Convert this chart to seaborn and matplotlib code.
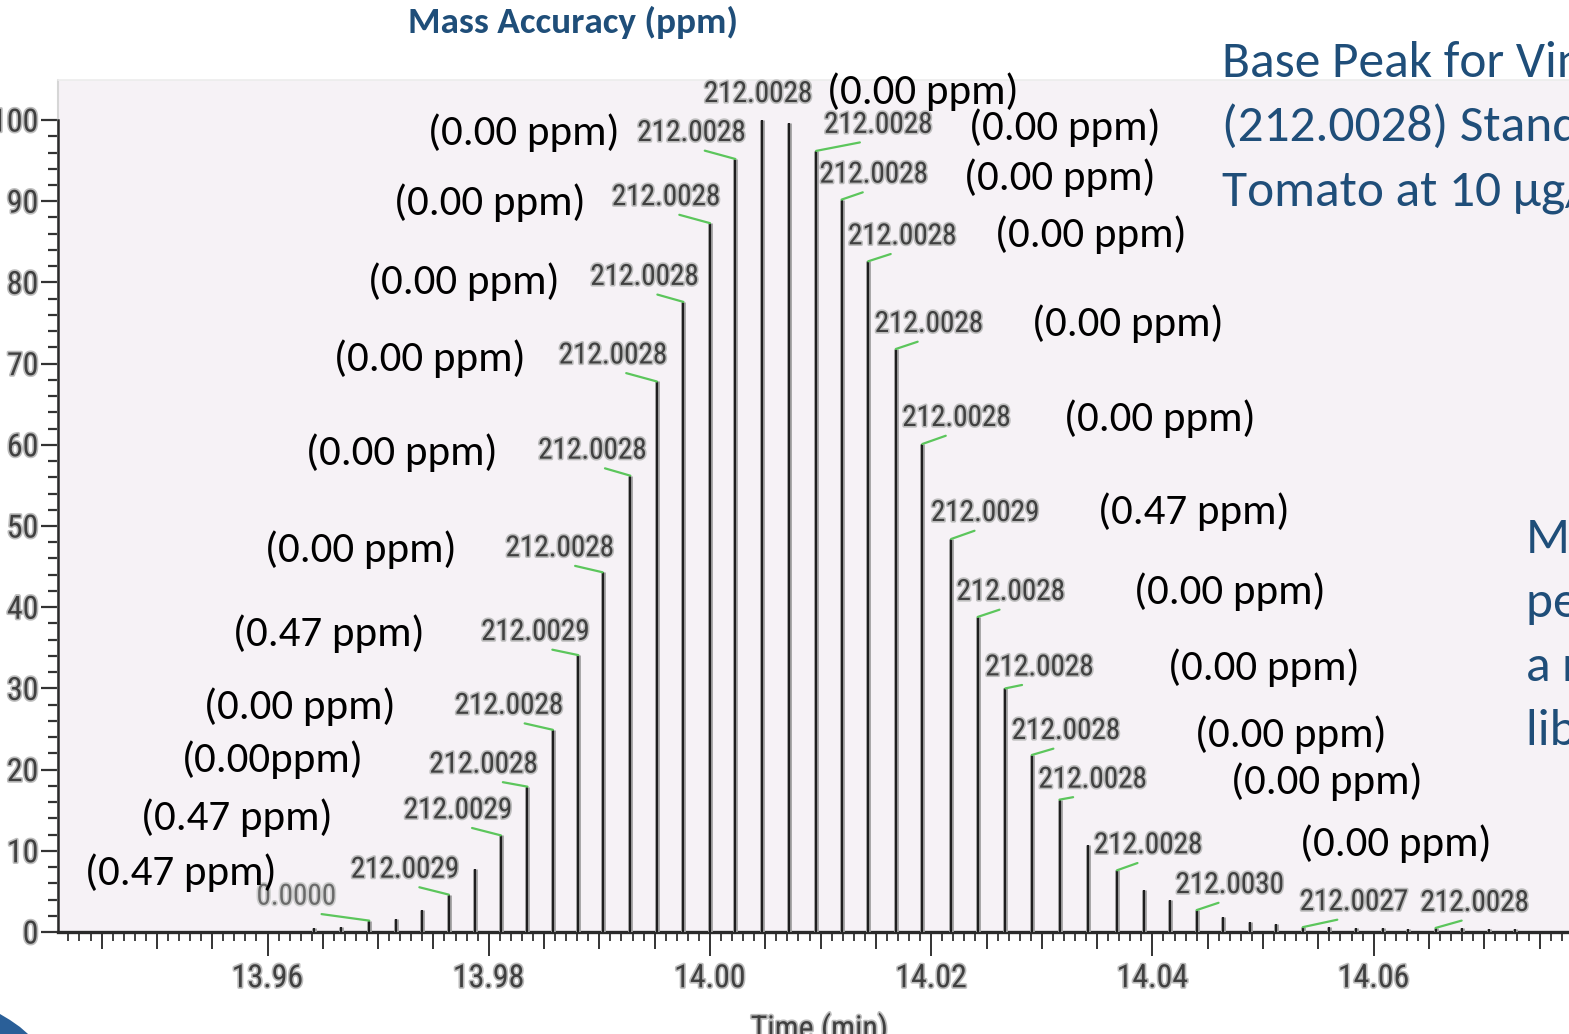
import matplotlib
matplotlib.use("Agg")
import numpy as np
import pandas as pd
import seaborn as sns
import matplotlib.pyplot as plt
from matplotlib import ticker, patheffects as pe, font_manager as fm
from matplotlib.patches import Polygon

# ---------------------------------------------------------------- data
retention_time = [
    13.9642, 13.9666, 13.9692, 13.9716, 13.9740, 13.9764, 13.9788, 13.9811,
    13.9835, 13.9858, 13.9881, 13.9903, 13.9928, 13.9952, 13.9976, 14.0000,
    14.0023, 14.0047, 14.0071, 14.0096, 14.0119, 14.0143, 14.0168, 14.0192,
    14.0218, 14.0242, 14.0267, 14.0291, 14.0316, 14.0342, 14.0368, 14.0392,
    14.0416, 14.0440, 14.0464, 14.0488, 14.0512, 14.0536, 14.0560, 14.0584,
    14.0608, 14.0631, 14.0656, 14.0680, 14.0704, 14.0728,
]
rel_abundance = [
    0.5, 0.6, 1.4, 1.6, 2.7, 4.6, 7.8, 11.9,
    17.9, 24.9, 34.1, 44.3, 56.2, 67.8, 77.6, 87.3,
    95.2, 100.0, 99.6, 96.2, 90.2, 82.6, 71.8, 60.1,
    48.4, 38.8, 30.0, 21.8, 16.3, 10.7, 7.6, 5.2,
    3.9, 2.7, 1.8, 1.2, 1.0, 0.6, 0.6, 0.5,
    0.5, 0.4, 0.5, 0.5, 0.4, 0.4,
]

# scans carrying an accurate-mass label
labelled_scan = [2, 5, 7, 8, 9, 10, 11, 12, 13, 14, 15, 16, 17,
                 19, 20, 21, 22, 23, 24, 25, 26, 27, 28, 30, 33, 37, 42]
mz_text = ["0.0000", "212.0029", "212.0029", "212.0028", "212.0028", "212.0029",
           "212.0028", "212.0028", "212.0028", "212.0028", "212.0028", "212.0028",
           "212.0028",
           "212.0028", "212.0028", "212.0028", "212.0028", "212.0028", "212.0029",
           "212.0028", "212.0028", "212.0028", "212.0028", "212.0028",
           "212.0030", "212.0027", "212.0028"]
ppm_text = [None, "(0.47 ppm)", "(0.47 ppm)", "(0.00ppm)", "(0.00 ppm)", "(0.47 ppm)",
            "(0.00 ppm)", "(0.00 ppm)", "(0.00 ppm)", "(0.00 ppm)", "(0.00 ppm)",
            "(0.00 ppm)", "(0.00 ppm)",
            "(0.00 ppm)", "(0.00 ppm)", "(0.00 ppm)", "(0.00 ppm)", "(0.00 ppm)",
            "(0.47 ppm)", "(0.00 ppm)", "(0.00 ppm)", "(0.00 ppm)", "(0.00 ppm)",
            "(0.00 ppm)", None, None, None]

title_text = "Mass Accuracy (ppm)"
side_note = ["Base Peak for Vinclozolin", "(212.0028) Standard in", "Tomato at 10 µg/kg"]
side_note2 = ["Mass accuracy for every", "peak scan supports", "a reliable match to the",
              "library spectrum"]

# ---------------------------------------------------------------- layout
# label offsets from each peak apex, in pixels (x right, y up)
mz_offset = [(-73, 24), (-44, 25), (-43, 25), (-44, 22), (-44, 24), (-43, 23),
             (-43, 24), (-38, 25), (-44, 26), (-39, 25), (-44, 26), (-44, 26),
             (-4, 26),
             (62, 26), (32, 25), (34, 25), (33, 25), (34, 26), (34, 26),
             (33, 25), (34, 21), (34, 24), (33, 20), (31, 25),
             (33, 25), (51, 25), (39, 25)]
ppm_offset = [None, (-172, 22), (-168, 18), (-164, 27), (-157, 23), (-154, 21),
              (-146, 23), (-133, 23), (-131, 23), (-124, 20), (-124, 20), (-116, 26),
              (65, 28),
              (153, 23), (122, 22), (127, 27), (136, 25), (142, 25), (147, 27),
              (156, 25), (163, 21), (163, 20), (171, 18), (183, 27),
              None, None, None]

W, H = 1569, 1034
available = {f.name for f in fm.fontManager.ttflist}


def pick(cands, default):
    for c in cands:
        if c in available:
            return c
    return default


narrow = pick(["Liberation Sans Narrow", "Roboto Condensed", "Arial Narrow"], "Liberation Sans")
body = pick(["Carlito", "Lato", "Open Sans"], "DejaVu Sans")

sns.set_theme(style="ticks")
plt.rcParams["font.family"] = [body, "DejaVu Sans"]

plot_bg = "#f6f2f6"
blue = "#1f4e79"
green = "#5cc65c"
stick_dark = "#1e1e1e"
gray_text = "#404040"
halo = [pe.withStroke(linewidth=2.4, foreground="#bdbdbd")]

fig = plt.figure(figsize=(W / 100, H / 100), dpi=100)
fig.patch.set_facecolor("white")
ax = fig.add_axes([58 / W, 102 / H, (W - 58) / W, 852 / H])
ax.set_facecolor(plot_bg)

df = pd.DataFrame({"time": retention_time, "abundance": rel_abundance})

# centroid sticks
ax.vlines(df["time"], 0, df["abundance"], colors=stick_dark, linewidth=1.5,
          path_effects=[pe.Stroke(linewidth=3.4, foreground="#9e9e9e"), pe.Normal()],
          zorder=3)

# accurate-mass labels with connectors, plus ppm error text
for k, scan in enumerate(labelled_scan):
    t, h = retention_time[scan], rel_abundance[scan]
    dx, dy = mz_offset[k]
    faded = mz_text[k] == "0.0000"
    arrow = None if scan == 17 else dict(arrowstyle="-", color=green, lw=1.6,
                                         shrinkA=1, shrinkB=0, relpos=(0.5, 0.0))
    ax.annotate(mz_text[k], xy=(t, h), xytext=(dx, dy), textcoords="offset pixels",
                ha="center", va="center", fontsize=21, family=narrow,
                color="#6a6a6a" if faded else gray_text,
                path_effects=[pe.withStroke(linewidth=2.4,
                                            foreground="#cfcfcf" if faded else "#bdbdbd")],
                arrowprops=arrow, zorder=5)
    if ppm_text[k] is not None:
        px, py = ppm_offset[k]
        ax.annotate(ppm_text[k], xy=(t, h), xytext=(px, py), textcoords="offset pixels",
                    ha="right" if px < 0 else "left", va="center",
                    fontsize=31, color="black", zorder=6)

# axes limits and rulers
ax.set_xlim(13.94106, 14.07766)
ax.set_ylim(0, 104.93)
ax.xaxis.set_major_locator(ticker.MultipleLocator(0.005))
ax.xaxis.set_minor_locator(ticker.MultipleLocator(0.001))
ax.xaxis.set_major_formatter(ticker.FuncFormatter(
    lambda v, pos: f"{v:.2f}" if abs(v / 0.02 - round(v / 0.02)) < 1e-6 else ""))
ax.yaxis.set_major_locator(ticker.FixedLocator(np.arange(0, 101, 10)))
ax.yaxis.set_minor_locator(ticker.FixedLocator([v for v in range(0, 101, 2) if v % 10]))

ax.tick_params(axis="x", which="major", length=12.2, width=1.4, color="#333333",
               pad=11, labelsize=23, labelcolor=gray_text, labelfontfamily=narrow)
ax.tick_params(axis="x", which="minor", length=6.5, width=1.3, color="#333333")
ax.tick_params(axis="y", which="major", length=12.0, width=1.6, color="#333333",
               pad=2, labelsize=23, labelcolor=gray_text, labelfontfamily=narrow)
ax.tick_params(axis="y", which="minor", length=7.0, width=1.6, color="#333333")

for side in ("top", "right"):
    ax.spines[side].set_visible(False)
ax.spines["bottom"].set_color("#2a2a2a")
ax.spines["bottom"].set_linewidth(2.4)
ax.spines["left"].set_color("#2a2a2a")
ax.spines["left"].set_linewidth(1.8)
ax.spines["left"].set_bounds(0, 100)
ax.plot([0, 0], [0, 1], transform=ax.transAxes, color="#d6d6d6", lw=1.5, clip_on=False)
ax.plot([0, 1], [1, 1], transform=ax.transAxes, color="#ececec", lw=1.2, clip_on=False)
ax.grid(False)

ax.set_xlabel("Time (min)", fontsize=23, family=narrow, color=gray_text,
              path_effects=halo)
ax.xaxis.set_label_coords(0.504, -0.095)
ax.xaxis.label.set_va("top")

fig.canvas.draw()
locs = ax.xaxis.get_majorticklocs()
for tick, loc in zip(ax.xaxis.get_major_ticks(len(locs)), locs):
    if abs(loc / 0.02 - round(loc / 0.02)) < 1e-6:
        tick.tick1line.set_markersize(17.3)
for lbl in ax.get_xticklabels() + ax.get_yticklabels():
    lbl.set_path_effects(halo)

# heading and side notes
fig.text(573 / W, 1 - 22 / H, title_text, ha="center", va="center", fontsize=26.8,
         fontweight="bold", color=blue)
for i, line in enumerate(side_note):
    fig.text(1222 / W, 1 - (77 + 64 * i) / H, line, ha="left", va="baseline",
             fontsize=37, color=blue)
for i, line in enumerate(side_note2):
    fig.text(1526 / W, 1 - (553 + 64 * i) / H, line, ha="left", va="baseline",
             fontsize=37, color=blue)

corner = [(0, 1014), (10, 1020), (20, 1027), (28, 1034), (0, 1034)]
fig.patches.append(Polygon([(x / W, 1 - y / H) for x, y in corner], closed=True,
                           transform=fig.transFigure, facecolor="#2a5f98",
                           edgecolor="none"))

fig.savefig("out.png", dpi=100)
